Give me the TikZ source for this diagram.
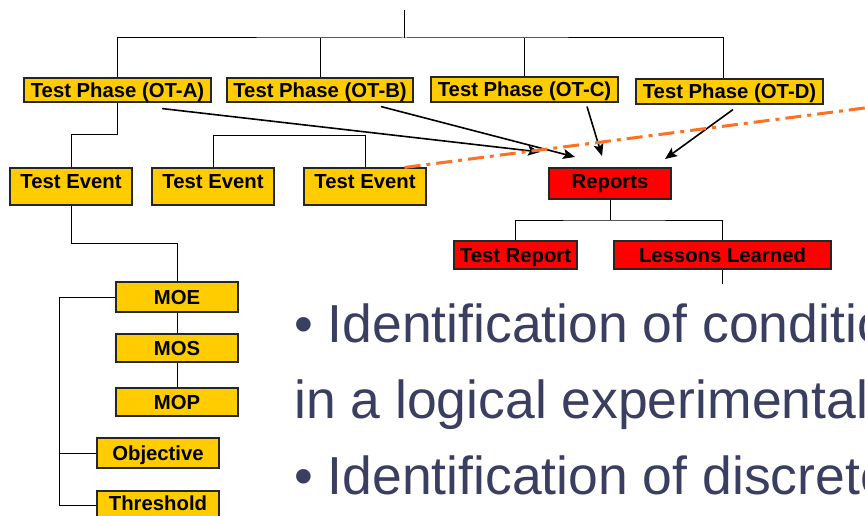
\documentclass[tikz,border=0pt]{standalone}
\usepackage{fontspec}
\setmainfont{Liberation Sans}
\usetikzlibrary{arrows.meta}
\definecolor{boxyellow}{HTML}{FFCC00}
\definecolor{boxred}{HTML}{FF0000}
\definecolor{bullettext}{RGB}{58,62,96}
\definecolor{orangeline}{RGB}{255,112,32}
\begin{document}
\begin{tikzpicture}[x=1pt,y=-1pt,
  box/.style={draw=black!85, line width=1.1pt, inner sep=0pt,
    font=\fontsize{20.3}{21}\selectfont\bfseries, text height=14.5pt, text depth=0pt},
  ybox/.style={box, fill=boxyellow},
  rbox/.style={box, fill=boxred},
  link/.style={line width=1pt, black},
  feed/.style={line width=1.6pt, black, -{Stealth[length=12pt,width=10pt,inset=2.5pt]}},
  cutline/.style={orangeline, line width=3pt, dash pattern=on 16pt off 6pt on 4pt off 6pt},
  bullets/.style={anchor=base west, inner sep=0pt, text=bullettext,
    font=\fontsize{53.5}{60}\selectfont}]
\useasboundingbox (0,0) rectangle (865,516);
\clip (0,0) rectangle (865,516);

% test phases
\node[ybox, minimum width=187pt, minimum height=24pt] (ota) at (117.5,90) {Test Phase (OT-A)};
\node[ybox, minimum width=186pt, minimum height=24pt] (otb) at (320,90) {Test Phase (OT-B)};
\node[ybox, minimum width=187pt, minimum height=25pt] (otc) at (524.5,89.5) {Test Phase (OT-C)};
\node[ybox, minimum width=187pt, minimum height=25pt] (otd) at (729.5,91.5) {Test Phase (OT-D)};

% test events
\node[ybox, minimum width=122pt, minimum height=37pt, text depth=11.5pt] (te1) at (71,186.5) {Test Event};
\node[ybox, minimum width=122pt, minimum height=37pt, text depth=11.5pt] (te2) at (213,186.5) {Test Event};
\node[ybox, minimum width=122pt, minimum height=37pt, text depth=11.5pt] (te3) at (365,186.5) {Test Event};

% reports
\node[rbox, minimum width=122pt, minimum height=31pt, text depth=4pt] (rep) at (610,183.5) {Reports};
\node[rbox, minimum width=123pt, minimum height=28pt] (trep) at (515.5,255) {Test Report};
\node[rbox, minimum width=217pt, minimum height=28pt] (ll) at (722.5,255) {Lessons Learned};

% measures
\node[ybox, minimum width=122pt, minimum height=30pt] (moe) at (177,297) {MOE};
\node[ybox, minimum width=122pt, minimum height=28pt] (mos) at (177,348) {MOS};
\node[ybox, minimum width=122pt, minimum height=28pt] (mop) at (177,402) {MOP};
\node[ybox, minimum width=122pt, minimum height=30pt] (obj) at (158,453) {Objective};
\node[ybox, minimum width=122pt, minimum height=28pt, text depth=4pt] (thr) at (158,505) {Threshold};

% tree connectors
\coordinate (top) at (404,10);
\coordinate (bus) at (404,38);
\draw[link] (top) -- (bus);
\draw[link] (ota.north) |- (bus) -| ([xshift=-6.5pt]otd.north);
\draw[link] (otb.north) -- (otb.north |- bus);
\draw[link] (otc.north) -- (otc.north |- bus);
\draw[link] (ota.south) -- ++(0,32) -| (te1.north);
\draw[link] (te2.north) -- ++(0,-32) -| (te3.north);
\draw[link] (te1.south) -- ++(0,38) -| (moe.north);
\draw[link] (moe.south) -- (mos.north);
\draw[link] (mos.south) -- (mop.north);
\coordinate (lb) at (59,0);
\draw[link] (moe.west) -| (lb |- thr.west) -- (thr.west);
\draw[link] (obj.west) -- (obj.west -| lb);
\coordinate (rbus) at (610,220);
\draw[link] (rep.south) -- (rbus);
\draw[link] (trep.north) |- (rbus) -| (ll.north);
\coordinate (llend) at (722.5,284);
\draw[link] (ll.south) -- (llend);

% feeds into the reports
\coordinate (ta) at (540,152);
\coordinate (tb) at (575,157);
\coordinate (tc) at (602,156);
\coordinate (td) at (665,159);
\draw[feed] ([xshift=44.5pt,yshift=-6pt]ota.south) -- (ta);
\draw[feed] ([xshift=61pt,yshift=-4pt]otb.south) -- (tb);
\draw[feed] ([xshift=62.5pt,yshift=-4pt]otc.south) -- (tc);
\draw[feed] ([xshift=3.5pt,yshift=-5pt]otd.south) -- (td);

% dash-dot cut line
\coordinate (cutend) at (880,106);
\draw[cutline] ([xshift=-22pt]te3.north east) -- (cutend);

% bullet text
\node[bullets] (l1) at (294,342) {• Identification of conditions};
\node[bullets] (l2) at (294,418) {in a logical experimental};
\node[bullets] (l3) at (294,494) {• Identification of discrete};
\end{tikzpicture}
\end{document}
